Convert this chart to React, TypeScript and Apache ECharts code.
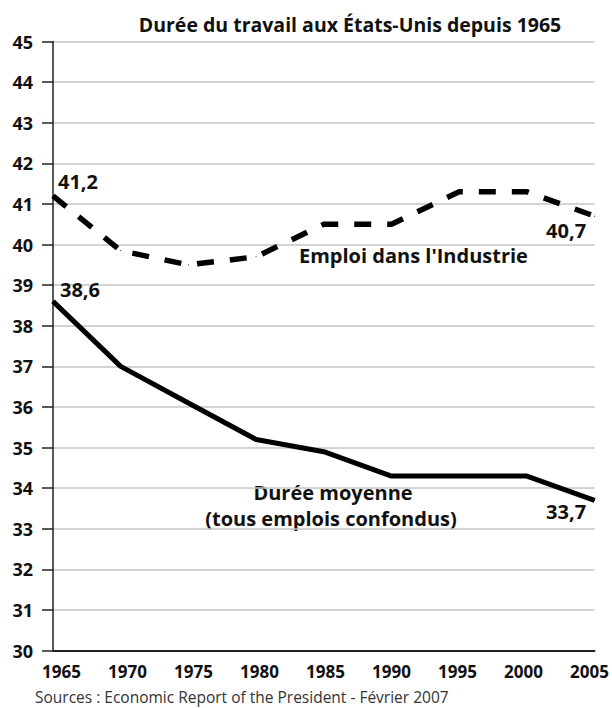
import React, { useEffect, useRef } from "react";
import * as echarts from "echarts";

const years = [1965, 1970, 1975, 1980, 1985, 1990, 1995, 2000, 2005];
const industrie = [41.2, 39.85, 39.5, 39.7, 40.5, 40.5, 41.3, 41.3, 40.7];
const moyenne = [38.6, 37.0, 36.1, 35.2, 34.9, 34.3, 34.3, 34.3, 33.7];
const yearLabels = [1965, 1970, 1975, 1980, 1985, 1990, 1995, 2000, 2005];

const titleText = "Durée du travail aux États-Unis depuis 1965";
const sourceText = "Sources : Economic Report of the President - Février 2007";
const industrieName = "Emploi dans l'Industrie";
const moyenneName1 = "Durée moyenne";
const moyenneName2 = "(tous emplois confondus)";

const FONT = "'Open Sans', 'DejaVu Sans', sans-serif";

const fmt = (v: number) => v.toFixed(1).replace(".", ",");

function buildData(vals: number[], labelIdx: Record<number, [number, number]>) {
  return vals.map((v, i) => {
    const item: any = { value: [years[i], v] };
    if (labelIdx[i]) {
      item.label = {
        show: true,
        position: "inside",
        offset: labelIdx[i],
        formatter: fmt(v),
        fontFamily: FONT,
        fontWeight: "bold",
        fontSize: 20,
        color: "#111",
      };
    }
    return item;
  });
}

export default function App() {
  const ref = useRef<HTMLDivElement>(null);
  useEffect(() => {
    if (!ref.current) return;
    const chart = echarts.init(ref.current, null, { renderer: "svg" });
    chart.setOption({
      animation: false,
      backgroundColor: "#fff",
      grid: { left: 53, right: 15, top: 41.5, bottom: 57.3, containLabel: false },
      title: {
        text: titleText,
        left: 345,
        top: 9,
        textAlign: "center",
        textStyle: { fontFamily: FONT, fontWeight: "bold", fontSize: 19.5, color: "#111" },
      },
      xAxis: [
        {
          type: "value",
          min: 1965,
          max: 2005,
          interval: 5,
          axisLine: { show: true, lineStyle: { color: "#222", width: 2 } },
          axisTick: { show: false },
          splitLine: { show: false },
          axisLabel: { show: false },
        },
        {
          type: "value",
          position: "bottom",
          min: 1964.36,
          max: 2005.38,
          axisLine: { show: false },
          axisTick: { show: false },
          splitLine: { show: false },
          axisLabel: {
            show: true,
            customValues: yearLabels,
            margin: 12,
            fontFamily: FONT,
            fontWeight: "bold",
            fontSize: 17,
            lineHeight: 17,
            color: "#111",
            formatter: (v: number) => String(v),
          },
        },
      ],
      yAxis: {
        type: "value",
        min: 30,
        max: 45,
        interval: 1,
        axisLine: { show: true, lineStyle: { color: "#222", width: 1.5 } },
        axisTick: { show: true, length: 11, lineStyle: { color: "#222", width: 1.5 } },
        splitLine: { show: true, lineStyle: { color: "#c4c4c4", width: 1.5 } },
        axisLabel: {
          margin: 20,
          fontFamily: FONT,
          fontWeight: "bold",
          fontSize: 18,
          color: "#111",
        },
      },
      series: [
        {
          type: "line",
          name: industrieName,
          xAxisIndex: 0,
          data: buildData(industrie, { 0: [25, -14.5], 8: [-28.5, 14] }),
          symbol: "circle",
          symbolSize: 1,
          showSymbol: true,
          lineStyle: { color: "#000", width: 5.5, type: [17, 16], cap: "butt" },
          itemStyle: { color: "#000" },
          z: 3,
        },
        {
          type: "line",
          name: moyenneName1,
          xAxisIndex: 0,
          data: buildData(moyenne, { 0: [27, -11.5], 8: [-28.5, 11] }),
          symbol: "circle",
          symbolSize: 1,
          showSymbol: true,
          lineStyle: { color: "#000", width: 5 },
          itemStyle: { color: "#000" },
          z: 3,
        },
      ],
      graphic: [
        {
          type: "text",
          x: 299,
          y: 255,
          style: {
            text: industrieName,
            fontFamily: FONT,
            fontWeight: "bold",
            fontSize: 20,
            fill: "#111",
            verticalAlign: "middle",
          },
        },
        {
          type: "text",
          x: 333,
          y: 492,
          style: {
            text: moyenneName1,
            fontFamily: FONT,
            fontWeight: "bold",
            fontSize: 20,
            fill: "#111",
            align: "center",
            verticalAlign: "middle",
          },
        },
        {
          type: "text",
          x: 331,
          y: 518,
          style: {
            text: moyenneName2,
            fontFamily: FONT,
            fontWeight: "bold",
            fontSize: 20,
            fill: "#111",
            align: "center",
            verticalAlign: "middle",
          },
        },
        {
          type: "text",
          x: 35,
          y: 697,
          style: {
            text: sourceText,
            fontFamily: FONT,
            fontSize: 15.5,
            lineHeight: 16,
            fill: "#333",
            verticalAlign: "middle",
          },
        },
      ],
    });
    return () => chart.dispose();
  }, []);
  return <div ref={ref} style={{ width: 612, height: 708, position: "absolute", left: 0, top: 0 }} />;
}
